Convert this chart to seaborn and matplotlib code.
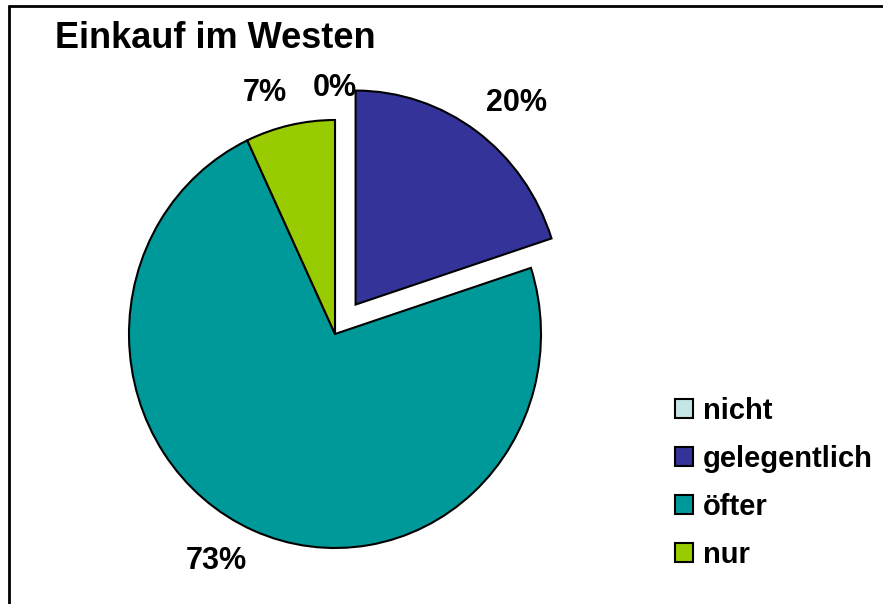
import matplotlib
matplotlib.use("Agg")
import matplotlib.pyplot as plt
from matplotlib.lines import Line2D
import seaborn as sns

# =========================================
# DATA
# =========================================

TITLE = "Einkauf im Westen"
categories = ["nicht", "gelegentlich", "öfter", "nur"]
shares = [0, 20, 73, 7]
explode = [0, 0.17, 0, 0]
colors = ["#C5E6E6", "#333399", "#009999", "#99CC00"]

# =========================================
# STYLE
# =========================================

sns.set_theme(style="white")
plt.rcParams["font.family"] = ["Liberation Sans", "DejaVu Sans"]
plt.rcParams["font.weight"] = "bold"
plt.rcParams["text.color"] = "black"

fig = plt.figure(figsize=(8.83, 6.04), dpi=100)
fig.patch.set_facecolor("white")

# pie axes (slightly taller than wide, like the original)
W, H = 883, 604
cx, cy = 335, 604 - 334
rx, ry = 206, 214
ax = fig.add_axes([(cx - 1.25 * rx) / W, (cy - 1.25 * ry) / H,
                   2.5 * rx / W, 2.5 * ry / H])

wedges, texts, autotexts = ax.pie(
    shares,
    explode=explode,
    colors=colors,
    startangle=90,
    counterclock=False,
    autopct="%d%%",
    pctdistance=1.08,
    wedgeprops=dict(edgecolor="black", linewidth=1.5),
    textprops=dict(fontsize=22, fontweight="bold", color="black"),
    frame=False,
)
ax.set_xlim(-1.25, 1.25)
ax.set_ylim(-1.25, 1.25)
ax.set_aspect("auto")
ax.axis("off")

# labels sit just outside the pie edge, like Excel's "outside end"
for t in autotexts:
    x, y = t.get_position()
    t.set_ha("left" if x > 0.1 else "right" if x < -0.1 else "center")
    t.set_va("bottom" if y > 0.1 else "top" if y < -0.1 else "center")

fig.text(55 / W, 1 - 39 / H, TITLE, fontsize=26, fontweight="bold",
         va="center", ha="left")

leg = fig.legend(wedges, categories, loc="upper left",
                 bbox_to_anchor=(663 / W, 1 - 385 / H),
                 frameon=False, handlelength=0.62,
                 handleheight=0.62, handletextpad=0.34, labelspacing=0.69,
                 borderpad=0.4, borderaxespad=0,
                 prop=dict(weight="bold", size=21))
for h in leg.legend_handles:
    h.set_linewidth(1.5)
    h.set_edgecolor("black")

# chart frame (top and left edge only visible)
fig.add_artist(Line2D([9 / W, 1], [1 - 5.5 / H, 1 - 5.5 / H],
                      color="black", linewidth=2, transform=fig.transFigure))
fig.add_artist(Line2D([9 / W, 9 / W], [0, 1 - 5.5 / H],
                      color="black", linewidth=2, transform=fig.transFigure))

fig.savefig("out.png", dpi=100)
